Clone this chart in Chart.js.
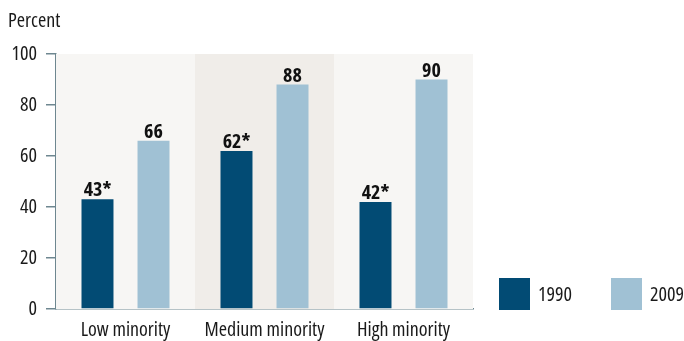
<!DOCTYPE html>
<html>
<head>
<meta charset="utf-8">
<script src="https://cdn.jsdelivr.net/npm/chart.js@4/dist/chart.umd.min.js"></script>
<style>
  html, body { margin: 0; padding: 0; background: #fff; }
  #wrap { width: 684px; height: 341px; position: relative; }
</style>
</head>
<body>
<div id="wrap"><canvas id="chart"></canvas></div>
<script>
// data
const categories = ['Low minority', 'Medium minority', 'High minority'];
const years = ['1990', '2009'];
const values1990 = [43, 62, 42];
const values2009 = [66, 88, 90];
// asterisk marks significant difference from 2009
const star1990 = [true, true, true];
const star2009 = [false, false, false];
const yTicks = [0, 20, 40, 60, 80, 100];

// Open Sans is variable, "condensed" in the shorthand gives a narrow cut
const FAMILY = '"Open Sans", sans-serif';
const darkBlue = '#024b74';
const lightBlue = '#a0c1d4';
const axisGray = '#6e8790';
const textColor = '#1a1a1a';

// background bands behind each category, middle one darker
const bandPlugin = {
  id: 'bands',
  beforeDatasetsDraw(chart) {
    const { ctx, chartArea, scales } = chart;
    const x = scales.x;
    const w = (chartArea.right - chartArea.left) / categories.length;
    categories.forEach((c, i) => {
      const cx = x.getPixelForValue(i);
      ctx.fillStyle = i === 1 ? '#f0ede9' : '#f7f6f4';
      ctx.fillRect(cx - w / 2, chartArea.top, w, chartArea.bottom - chartArea.top);
    });
  }
};

// value labels above bars, "Percent" heading, legend boxes
const labelPlugin = {
  id: 'labels',
  afterDatasetsDraw(chart) {
    const { ctx } = chart;
    const stars = [star1990, star2009];
    ctx.save();
    ctx.font = 'normal bold condensed 20px ' + FAMILY;
    ctx.fillStyle = '#111';
    ctx.textAlign = 'center';
    ctx.textBaseline = 'alphabetic';
    chart.data.datasets.forEach((ds, di) => {
      chart.getDatasetMeta(di).data.forEach((bar, i) => {
        ctx.fillText(ds.data[i] + (stars[di][i] ? '*' : ''), bar.x, bar.y - 3);
      });
    });
    ctx.restore();
  },
  afterDraw(chart) {
    const { ctx } = chart;
    ctx.save();
    ctx.font = 'normal condensed 20px ' + FAMILY;
    ctx.fillStyle = textColor;
    ctx.textBaseline = 'alphabetic';
    ctx.textAlign = 'left';
    ctx.fillText('Percent', 8, 27);

    const legendX = [499, 611];
    chart.data.datasets.forEach((ds, di) => {
      ctx.fillStyle = ds.backgroundColor;
      ctx.fillRect(legendX[di], 278, 31, 32);
      ctx.fillStyle = textColor;
      ctx.fillText(ds.label, legendX[di] + 39, 301);
    });
    ctx.restore();
  }
};

new Chart(document.getElementById('chart'), {
  type: 'bar',
  data: {
    labels: categories,
    datasets: [
      { label: years[0], data: values1990, backgroundColor: darkBlue },
      { label: years[1], data: values2009, backgroundColor: lightBlue }
    ]
  },
  options: {
    responsive: true,
    maintainAspectRatio: false,
    animation: false,
    categoryPercentage: 0.806,
    barPercentage: 0.571,
    layout: { padding: { left: 0, right: 211, top: 54, bottom: 0 } },
    plugins: {
      legend: { display: false },
      tooltip: { enabled: false }
    },
    scales: {
      x: {
        grid: { display: false, drawTicks: false },
        border: { display: true, color: axisGray, width: 1.5 },
        ticks: {
          color: textColor, autoSkip: false, maxRotation: 0, padding: 9,
          font: { family: FAMILY, size: 20, weight: 'condensed' }
        },
        afterFit(scale) { scale.height = 32; }
      },
      y: {
        min: 0,
        max: 100,
        afterBuildTicks(scale) { scale.ticks = yTicks.map(v => ({ value: v })); },
        grid: { drawOnChartArea: false, drawTicks: true, tickLength: 10, color: axisGray, lineWidth: 1.5 },
        border: { display: true, color: axisGray, width: 1.5 },
        ticks: {
          color: textColor, padding: 9,
          font: { family: FAMILY, size: 20, weight: 'condensed' }
        },
        afterFit(scale) { scale.width = 56; }
      }
    }
  },
  plugins: [bandPlugin, labelPlugin]
});
</script>
</body>
</html>
